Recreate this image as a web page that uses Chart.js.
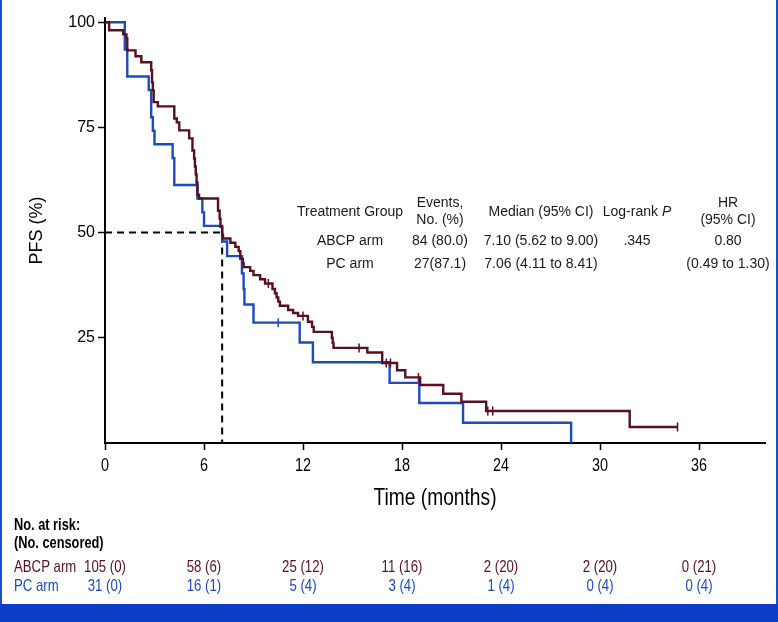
<!DOCTYPE html>
<html>
<head>
<meta charset="utf-8">
<script src="https://cdn.jsdelivr.net/npm/chart.js@4.4.1/dist/chart.umd.min.js"></script>
<style>
  body { margin: 0; background: #fff; }
  #wrap { position: relative; width: 778px; height: 622px; overflow: hidden; background: #fff; }
  #frame { position: absolute; left: 0; top: 0; width: 774px; height: 604px; border-left: 2px solid #1c4fd0; border-right: 2px solid #1c4fd0; pointer-events: none; }
  #band { position: absolute; left: 0; top: 604px; width: 778px; height: 18px; background: #0b3dc6; }
  canvas { position: absolute; left: 0; top: 0; }
</style>
</head>
<body>
<div id="wrap">
  <canvas id="kmChart" width="778" height="604"></canvas>
  <div id="frame"></div>
  <div id="band"></div>
</div>
<script>
// Kaplan-Meier steps (time in months, PFS in %)
const abcpTimes = [0, 0.25, 1.1, 1.3, 1.35, 1.85, 2.2, 2.8, 2.85, 2.9, 2.95, 3.2, 4.2, 4.35, 4.5, 5.1, 5.3, 5.4, 5.45, 5.5, 5.55, 5.6, 5.7,
  6.85, 6.95, 7.0, 7.1, 7.15, 7.6, 7.9, 8.1, 8.2, 8.35, 8.4, 8.8, 9.0, 9.4, 9.7, 10.15, 10.3, 10.4, 10.5, 10.6, 11.1, 11.4, 11.7,
  12.3, 12.55, 12.65, 13.75, 13.8, 13.85, 15.9, 16.8, 17.7, 18.2, 19.1, 20.5, 21.6, 23.1, 31.8, 34.7];
const abcpPfs = [100, 98.1, 97.1, 96.2, 93.3, 91.9, 90.5, 88.6, 85.7, 83.8, 81.0, 80.0, 77.1, 76.2, 74.3, 72.4, 69.5, 67.6, 65.7, 63.8, 61.9, 59.0, 58.1,
  55.2, 53.3, 51.4, 49.5, 48.6, 47.6, 46.6, 45.6, 43.8, 42.8, 41.8, 40.9, 39.9, 38.9, 37.9, 36.6, 35.6, 34.6, 33.6, 32.6, 31.6, 30.9, 30.2,
  28.8, 27.6, 26.4, 25.0, 23.8, 22.6, 21.5, 19.0, 17.3, 15.6, 13.8, 11.7, 9.8, 7.6, 3.8, 3.8];
const abcpCensorTimes = [9.9, 12.0, 15.4, 17.05, 17.3, 19.0, 23.2, 23.5, 34.7];
const abcpCensorPfs = [37.9, 30.2, 22.6, 19.0, 19.0, 15.6, 7.6, 7.6, 3.8];

const pcTimes = [0, 1.2, 1.35, 2.65, 2.8, 2.9, 3.0, 4.1, 4.2, 5.6, 5.9, 6.0, 7.1, 7.4, 8.3, 8.4, 8.45, 9.0, 11.8, 12.6, 17.25, 19.05, 21.7, 28.25];
const pcPfs = [100, 93.5, 87.1, 83.9, 77.4, 74.2, 71.0, 67.7, 61.3, 58.1, 54.8, 51.6, 47.9, 44.4, 40.3, 36.6, 32.9, 28.6, 23.9, 19.2, 14.3, 9.5, 4.8, 0];
const pcCensorTimes = [10.5];
const pcCensorPfs = [28.6];

const medianTime = 7.1;
const xTicks = [0, 6, 12, 18, 24, 30, 36];
const yTicks = [25, 50, 75, 100];

// number at risk (number censored) under each x tick
const riskAbcp = ["105 (0)", "58 (6)", "25 (12)", "11 (16)", "2 (20)", "2 (20)", "0 (21)"];
const riskPc = ["31 (0)", "16 (1)", "5 (4)", "3 (4)", "1 (4)", "0 (4)", "0 (4)"];

const tableHeader = ["Treatment Group", "Events,|No. (%)", "Median (95% CI)", "Log-rank P", "HR|(95% CI)"];
const tableAbcp = ["ABCP arm", "84 (80.0)", "7.10 (5.62 to 9.00)", ".345", "0.80"];
const tablePc = ["PC arm", "27(87.1)", "7.06 (4.11 to 8.41)", "", "(0.49 to 1.30)"];

const RED = "#5a0f1e";
const BLUE = "#1a4cc0";
const SANS = "'Liberation Sans', Arial, sans-serif";
const SQUEEZE = 0.8; // condensed look of the axis / risk table lettering

function toPoints(xs, ys) {
  return xs.map((x, i) => ({ x: x, y: ys[i] }));
}

function narrowText(ctx, text, x, y, font, align) {
  ctx.save();
  ctx.font = font;
  ctx.textAlign = align;
  ctx.translate(x, y);
  ctx.scale(SQUEEZE, 1);
  ctx.fillText(text, 0, 0);
  ctx.restore();
}

const textLayer = {
  id: "textLayer",
  afterDraw(chart) {
    const ctx = chart.ctx;
    const xs = chart.scales.x;
    const f = "14px " + SANS;
    ctx.save();
    ctx.textBaseline = "middle";

    // summary table inside the plot
    const colX = [350, 440, 541, 637, 728];
    ctx.fillStyle = "#1a1a1a";
    ctx.font = f;
    ctx.textAlign = "center";
    tableHeader.forEach((h, i) => {
      const lines = h.split("|");
      if (h === "Log-rank P") {
        const a = "Log-rank ";
        ctx.font = f;
        const wa = ctx.measureText(a).width;
        ctx.font = "italic " + f;
        const wb = ctx.measureText("P").width;
        const start = colX[i] - (wa + wb) / 2;
        ctx.textAlign = "left";
        ctx.font = f;
        ctx.fillText(a, start, 212);
        ctx.font = "italic " + f;
        ctx.fillText("P", start + wa, 212);
        ctx.textAlign = "center";
        ctx.font = f;
      } else if (lines.length === 2) {
        ctx.fillText(lines[0], colX[i], 203);
        ctx.fillText(lines[1], colX[i], 220);
      } else {
        ctx.fillText(h, colX[i], 212);
      }
    });
    tableAbcp.forEach((t, i) => ctx.fillText(t, colX[i], 241));
    tablePc.forEach((t, i) => ctx.fillText(t, colX[i], 264));

    // x tick labels and axis title
    ctx.fillStyle = "#000";
    xTicks.forEach((t) => {
      narrowText(ctx, String(t), xs.getPixelForValue(t), 466, "18px " + SANS, "center");
    });
    narrowText(ctx, "Time (months)", (xs.left + xs.right) / 2, 498, "24px " + SANS, "center");

    // number at risk table
    narrowText(ctx, "No. at risk:", 14, 526, "bold 16px " + SANS, "left");
    narrowText(ctx, "(No. censored)", 14, 544, "bold 16px " + SANS, "left");
    ctx.fillStyle = RED;
    narrowText(ctx, "ABCP arm", 14, 567, "16.5px " + SANS, "left");
    ctx.fillStyle = BLUE;
    narrowText(ctx, "PC arm", 14, 586, "16.5px " + SANS, "left");
    xTicks.forEach((t, i) => {
      const px = xs.getPixelForValue(t);
      ctx.fillStyle = RED;
      narrowText(ctx, riskAbcp[i], px, 567, "16.5px " + SANS, "center");
      ctx.fillStyle = BLUE;
      narrowText(ctx, riskPc[i], px, 586, "16.5px " + SANS, "center");
    });
    ctx.restore();
  }
};

const ctx = document.getElementById("kmChart").getContext("2d");
new Chart(ctx, {
  type: "line",
  data: {
    datasets: [
      {
        label: "ABCP arm",
        data: toPoints(abcpTimes, abcpPfs),
        borderColor: RED,
        borderWidth: 2.4,
        stepped: "before",
        pointRadius: 0,
        fill: false,
        order: 1
      },
      {
        label: "PC arm",
        data: toPoints(pcTimes, pcPfs),
        borderColor: BLUE,
        borderWidth: 2.4,
        stepped: "before",
        pointRadius: 0,
        fill: false,
        order: 2
      },
      {
        label: "ABCP censored",
        data: toPoints(abcpCensorTimes, abcpCensorPfs),
        showLine: false,
        pointStyle: "line",
        rotation: 90,
        pointRadius: 4.5,
        borderColor: RED,
        pointBorderWidth: 1.5,
        order: 0
      },
      {
        label: "PC censored",
        data: toPoints(pcCensorTimes, pcCensorPfs),
        showLine: false,
        pointStyle: "line",
        rotation: 90,
        pointRadius: 4.5,
        borderColor: BLUE,
        pointBorderWidth: 1.5,
        order: 0
      },
      {
        label: "Median",
        data: [{ x: 0, y: 50 }, { x: medianTime, y: 50 }, { x: medianTime, y: 0 }],
        borderColor: "#000",
        borderWidth: 2,
        borderDash: [7, 5],
        pointRadius: 0,
        fill: false,
        order: 3
      }
    ]
  },
  options: {
    responsive: false,
    animation: false,
    layout: { padding: { top: 18, right: 13, left: 0, bottom: 0 } },
    plugins: { legend: { display: false }, tooltip: { enabled: false } },
    scales: {
      x: {
        type: "linear",
        min: 0,
        max: 40,
        afterBuildTicks: (scale) => { scale.ticks = xTicks.map(v => ({ value: v })); },
        afterFit: (scale) => { scale.height = 161; },
        grid: { drawOnChartArea: false, tickLength: 7, tickColor: "#000", tickWidth: 1.5 },
        border: { color: "#000", width: 2 },
        ticks: { display: false }
      },
      y: {
        min: 0,
        max: 101,
        afterBuildTicks: (scale) => { scale.ticks = yTicks.map(v => ({ value: v })); },
        afterFit: (scale) => { scale.width = 105; },
        grid: { drawOnChartArea: false, tickLength: 7, tickColor: "#000", tickWidth: 1.5 },
        border: { color: "#000", width: 2 },
        ticks: { color: "#000", font: { family: SANS, size: 16 }, padding: 3 },
        title: { display: true, text: "PFS (%)", color: "#000", font: { family: SANS, size: 18 }, padding: { top: 26, bottom: 0 } }
      }
    }
  },
  plugins: [textLayer]
});
</script>
</body>
</html>
